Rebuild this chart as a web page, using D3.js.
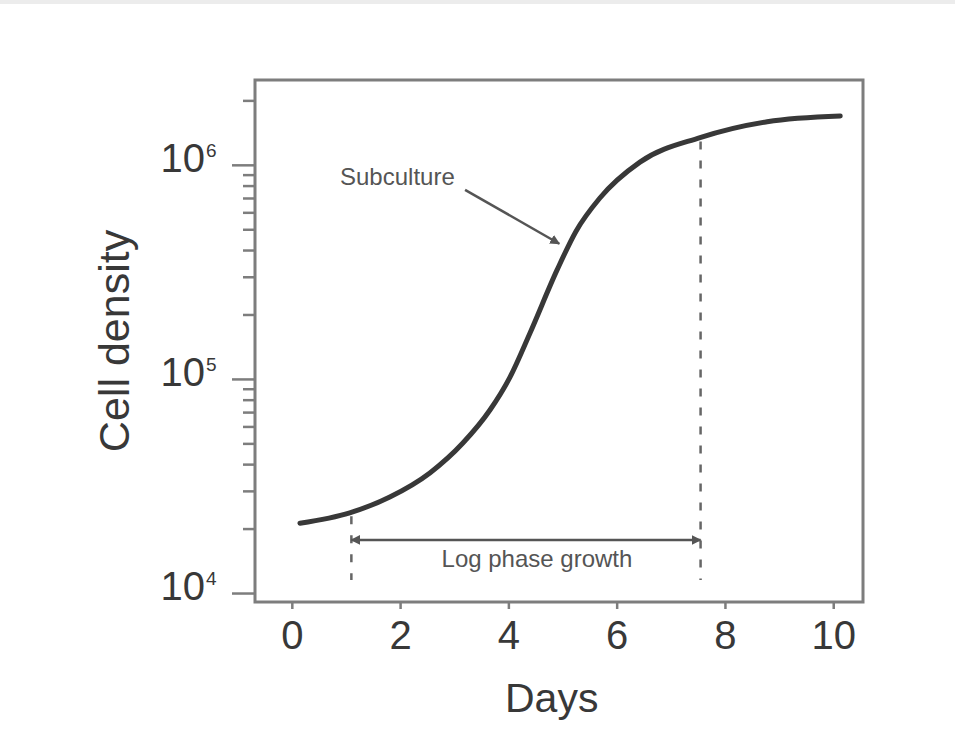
<!DOCTYPE html>
<html><head><meta charset="utf-8">
<script src="https://cdn.jsdelivr.net/npm/d3@7"></script>
<style>
html,body{margin:0;padding:0;background:#fff;}
svg{display:block;}
text{font-family:"Liberation Sans",Arial,Helvetica,sans-serif;}
</style></head>
<body>
<svg id="chart" width="955" height="749"></svg>
<script>
// ---- data ----
const days    = [0.15, 1.07, 1.81, 2.55, 3.16, 3.66, 4.03, 4.40, 4.90, 5.25, 5.69, 6.43, 7.54, 8.78, 10.13];
const density = [21200, 23700, 28100, 36400, 50200, 71600, 102000, 164000, 323000, 490000, 700000, 1030000, 1340000, 1590000, 1690000];
const xTicks = [0, 2, 4, 6, 8, 10];
const yMajor = [1e4, 1e5, 1e6];
const yMajorExp = ["4", "5", "6"];
const xDomain = [-0.68, 10.55];
const yDomain = [9080, 2.49e6];
const logPhase = [1.1, 7.55];
const logPhaseY = 17700;
const dashBottom = 11500;
const subcultureText = [0.89, 880000];
const subcultureLine = [[3.20, 764000], [4.94, 428000]];

const W = 955, H = 749;
const m = {left:255, right:863, top:80, bottom:602};
const svg = d3.select("#chart");

svg.append("rect").attr("x",0).attr("y",0).attr("width",W).attr("height",4).attr("fill","#ececec");

const x = d3.scaleLinear().domain(xDomain).range([m.left, m.right]);
const y = d3.scaleLog().domain(yDomain).range([m.bottom, m.top]);

const axisColor = "#7d7d7d";
const textColor = "#383838";

// minor y ticks
const yMinor = [];
for (let e = 3; e <= 6; e++) for (let k = 2; k <= 9; k++) {
  const v = k * Math.pow(10, e);
  if (v > yDomain[0] && v < yDomain[1]) yMinor.push(v);
}
const gMinor = svg.append("g").attr("transform",`translate(${m.left},0)`)
  .call(d3.axisLeft(y).tickValues(yMinor).tickSize(12).tickFormat(""));
const gMajor = svg.append("g").attr("transform",`translate(${m.left},0)`)
  .call(d3.axisLeft(y).tickValues(yMajor).tickSize(23).tickFormat(""));
[gMinor, gMajor].forEach(g => {
  g.select(".domain").remove();
  g.selectAll(".tick line").attr("stroke", axisColor).attr("stroke-width", 2.5);
});

// y tick labels with superscripts
yMajor.forEach((v, i) => {
  svg.append("text")
    .attr("x", 205).attr("y", y(v) + 7)
    .attr("text-anchor", "end")
    .attr("font-size", 40).attr("fill", textColor)
    .text("10");
  svg.append("text")
    .attr("x", 206).attr("y", y(v) - 8)
    .attr("font-size", 19).attr("fill", textColor)
    .text(yMajorExp[i]);
});

// x axis
const gx = svg.append("g").attr("transform",`translate(0,${m.bottom})`)
  .call(d3.axisBottom(x).tickValues(xTicks).tickSize(7).tickPadding(12).tickFormat(d3.format("d")));
gx.select(".domain").remove();
gx.selectAll(".tick line").attr("stroke", axisColor).attr("stroke-width", 2.5);
gx.selectAll(".tick text").attr("font-size", 40).attr("fill", textColor).attr("dy", "0.71em");

// frame
svg.append("rect")
  .attr("x", m.left).attr("y", m.top)
  .attr("width", m.right - m.left).attr("height", m.bottom - m.top)
  .attr("fill", "none").attr("stroke", axisColor).attr("stroke-width", 3);

// axis titles
svg.append("text")
  .attr("x", x(4.8)).attr("y", 712)
  .attr("text-anchor", "middle").attr("font-size", 41).attr("fill", textColor)
  .text("Days");
svg.append("text")
  .attr("transform", `translate(129,341) rotate(-90)`)
  .attr("text-anchor", "middle").attr("font-size", 43).attr("fill", textColor)
  .text("Cell density");

// curve
const pts = days.map((d, i) => [d, density[i]]);
svg.append("path")
  .datum(pts)
  .attr("fill", "none").attr("stroke", "#383838").attr("stroke-width", 5)
  .attr("stroke-linecap", "round")
  .attr("d", d3.line().x(d => x(d[0])).y(d => y(d[1])).curve(d3.curveMonotoneX));

// markers
const defs = svg.append("defs");
defs.append("marker").attr("id","ah").attr("viewBox","0 0 10 10").attr("refX",9).attr("refY",5)
  .attr("markerWidth",4).attr("markerHeight",4).attr("orient","auto-start-reverse")
  .append("path").attr("d","M0,0 L10,5 L0,10 z").attr("fill","#555");

// log-phase dashed verticals
const curveAt = d => {
  for (let i = 0; i < days.length - 1; i++) {
    if (d >= days[i] && d <= days[i+1]) {
      const t = (d - days[i]) / (days[i+1] - days[i]);
      return Math.pow(10, Math.log10(density[i]) + t * (Math.log10(density[i+1]) - Math.log10(density[i])));
    }
  }
  return density[density.length-1];
};
logPhase.forEach(d => {
  svg.append("line")
    .attr("x1", x(d)).attr("x2", x(d))
    .attr("y1", y(curveAt(d)) + 4).attr("y2", y(dashBottom))
    .attr("stroke", "#666").attr("stroke-width", 2.5).attr("stroke-dasharray", "8,11");
});
svg.append("line")
  .attr("x1", x(logPhase[0])).attr("x2", x(logPhase[1]))
  .attr("y1", y(logPhaseY)).attr("y2", y(logPhaseY))
  .attr("stroke", "#555").attr("stroke-width", 2.5)
  .attr("marker-start", "url(#ah)").attr("marker-end", "url(#ah)");
svg.append("text")
  .attr("x", x((logPhase[0] + logPhase[1]) / 2) + 11).attr("y", y(logPhaseY) + 27)
  .attr("text-anchor", "middle").attr("font-size", 24).attr("fill", "#555")
  .text("Log phase growth");

// Subculture annotation
svg.append("text")
  .attr("x", x(subcultureText[0])).attr("y", y(subcultureText[1]) + 8)
  .attr("font-size", 24).attr("fill", "#555")
  .text("Subculture");
svg.append("line")
  .attr("x1", x(subcultureLine[0][0])).attr("y1", y(subcultureLine[0][1]))
  .attr("x2", x(subcultureLine[1][0])).attr("y2", y(subcultureLine[1][1]))
  .attr("stroke", "#555").attr("stroke-width", 2.5)
  .attr("marker-end", "url(#ah)");
</script>
</body></html>
